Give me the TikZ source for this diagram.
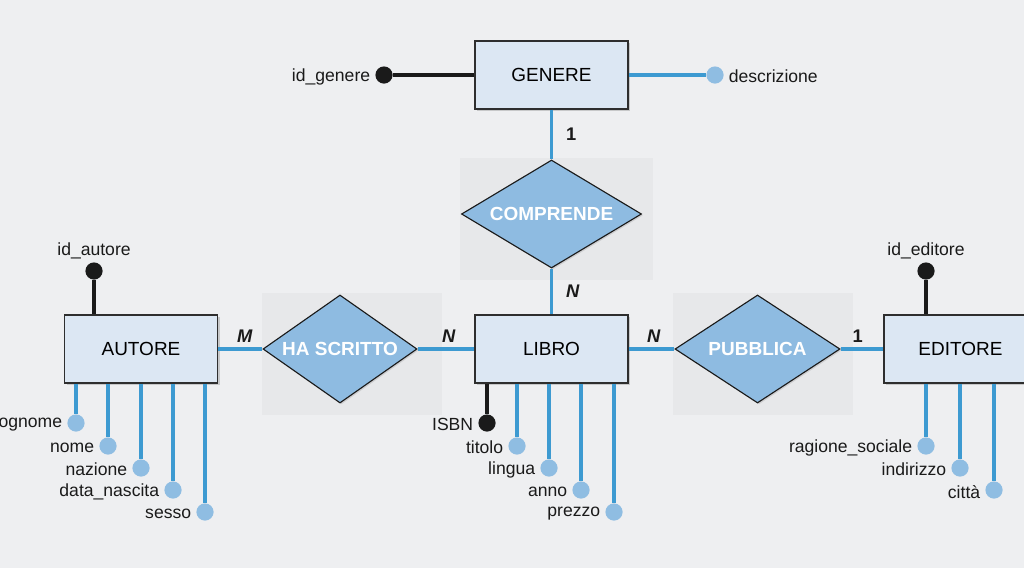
\documentclass[tikz,border=0pt]{standalone}
\usepackage{fontspec}
\setmainfont{Liberation Sans}
\usepackage{tikz}
\usepackage{xcolor}
\usetikzlibrary{shapes.geometric, positioning, calc, shadows}
\definecolor{ERBack}{HTML}{EEEFF1}
\definecolor{ERPanel}{HTML}{E7E8EA}
\definecolor{ERBox}{HTML}{DCE7F3}
\definecolor{ERBorder}{HTML}{2E2E2E}
\definecolor{ERDiamond}{HTML}{8EBBE1}
\definecolor{ERLine}{HTML}{3D9AD1}
\definecolor{ERDot}{HTML}{8FBDE2}
\definecolor{ERKey}{HTML}{1A1A1A}
\tikzset{
    % Entity boxes with a soft shadow
    entity/.style={
        rectangle,
        draw=ERBorder,
        fill=ERBox,
        line width=0.9pt,
        minimum width=3.825cm,
        minimum height=1.7cm,
        font=\fontsize{13.5}{16}\selectfont,
        drop shadow={shadow xshift=1.6pt, shadow yshift=-1.6pt, opacity=0.35}
    },
    relation/.style={
        diamond,
        draw=ERKey,
        fill=ERDiamond,
        line width=0.8pt,
        aspect=1.6,
        inner sep=0pt,
        minimum height=2.7cm,
        text=white,
        font=\fontsize{13.5}{16}\selectfont\bfseries,
        drop shadow={shadow xshift=1pt, shadow yshift=-1pt, opacity=0.25}
    },
    panel/.style={
        fill=ERPanel,
        draw=none
    },
    attr/.style={
        circle,
        fill=ERDot,
        inner sep=0pt,
        minimum size=0.43cm,
        label distance=0.5pt
    },
    key attr/.style={
        attr,
        fill=ERKey
    },
    attr label/.style={
        font=\fontsize{12.5}{15}\selectfont,
        text=ERKey,
        yshift=-1.2pt
    },
    link/.style={
        ERLine,
        line width=2.6pt
    },
    key link/.style={
        ERKey,
        line width=2.2pt
    },
    card/.style={
        font=\fontsize{13}{15}\selectfont\bfseries\itshape,
        text=ERKey
    }
}

\begin{document}
\begin{tikzpicture}[x=0.025cm, y=-0.025cm]
        % Canvas
        \useasboundingbox (0,0) rectangle (1024,568);
        \fill[ERBack] (0,0) rectangle (1024,568);

        % Panels behind the relations
        \fill[panel] (460,158) rectangle (653,280);
        \fill[panel] (262,293) rectangle (442,415);
        \fill[panel] (673,293) rectangle (853,415);

        % Entities
        \node[entity] (genere) at (551.5,75) {GENERE};
        \node[entity] (libro) at (551.5,349) {LIBRO};
        \node[entity] (autore) at (141,349) {AUTORE};
        \node[entity] (editore) at (960.5,349) {EDITORE};

        % Relations
        \node[relation, minimum width=4.5cm] (comprende) at (551.5,214) {COMPRENDE};
        \node[relation, minimum width=3.85cm] (hascritto) at (340,349) {HA SCRITTO};
        \node[relation, minimum width=4.125cm] (pubblica) at (757.5,349) {PUBBLICA};

        % Relation links with cardinalities
        \draw[link] (genere.south) -- node[card, right=2mm, font=\fontsize{13}{15}\selectfont\bfseries] {1} (comprende.north);
        \draw[link] (comprende.south) -- node[card, right=2mm] {N} (libro.north);
        \draw[link] (autore.east) -- node[card, above, pos=0.6] {M} (hascritto.west);
        \draw[link] (hascritto.east) -- node[card, above, pos=0.55] {N} (libro.west);
        \draw[link] (libro.east) -- node[card, above, pos=0.55] {N} (pubblica.west);
        \draw[link] (pubblica.east) -- node[card, above, pos=0.4, font=\fontsize{13}{15}\selectfont\bfseries] {1} (editore.west);

        % Attributes of GENERE
        \node[key attr, label={[attr label]left:id\_genere}] (idgenere) at (384,75) {};
        \node[attr, label={[attr label]right:descrizione}] (descrizione) at (715,75) {};
        \draw[key link] (idgenere) -- (genere.west);
        \draw[link] (descrizione) -- (genere.east);

        % Attributes of AUTORE
        \node[key attr, label={[attr label]above:id\_autore}] (idautore) at (94,271) {};
        \draw[key link] (idautore) -- (idautore |- autore.north);
        \node[attr, label={[attr label]left:cognome}] (cognome) at (76,423) {};
        \node[attr, label={[attr label]left:nome}] (nome) at (108,446) {};
        \node[attr, label={[attr label]left:nazione}] (nazione) at (141,468) {};
        \node[attr, label={[attr label]left:data\_nascita}] (datanascita) at (173,490) {};
        \node[attr, label={[attr label]left:sesso}] (sesso) at (205,512) {};
        \draw[link] (cognome) -- (cognome |- autore.south);
        \draw[link] (nome) -- (nome |- autore.south);
        \draw[link] (nazione) -- (nazione |- autore.south);
        \draw[link] (datanascita) -- (datanascita |- autore.south);
        \draw[link] (sesso) -- (sesso |- autore.south);

        % Attributes of LIBRO
        \node[key attr, label={[attr label]left:ISBN}] (isbn) at (487,423) {};
        \node[attr, label={[attr label]left:titolo}] (titolo) at (517,446) {};
        \node[attr, label={[attr label]left:lingua}] (lingua) at (549,468) {};
        \node[attr, label={[attr label]left:anno}] (anno) at (581,490) {};
        \node[attr, label={[attr label]left:prezzo}] (prezzo) at (614,512) {};
        \draw[key link] (isbn) -- (isbn |- libro.south);
        \draw[link] (titolo) -- (titolo |- libro.south);
        \draw[link] (lingua) -- (lingua |- libro.south);
        \draw[link] (anno) -- (anno |- libro.south);
        \draw[link] (prezzo) -- (prezzo |- libro.south);

        % Attributes of EDITORE
        \node[key attr, label={[attr label]above:id\_editore}] (ideditore) at (926,271) {};
        \draw[key link] (ideditore) -- (ideditore |- editore.north);
        \node[attr, label={[attr label]left:ragione\_sociale}] (ragionesociale) at (926,446) {};
        \node[attr, label={[attr label]left:indirizzo}] (indirizzo) at (960,468) {};
        \node[attr, label={[attr label]left:città}] (citta) at (994,490) {};
        \draw[link] (ragionesociale) -- (ragionesociale |- editore.south);
        \draw[link] (indirizzo) -- (indirizzo |- editore.south);
        \draw[link] (citta) -- (citta |- editore.south);
    \end{tikzpicture}
\end{document}
